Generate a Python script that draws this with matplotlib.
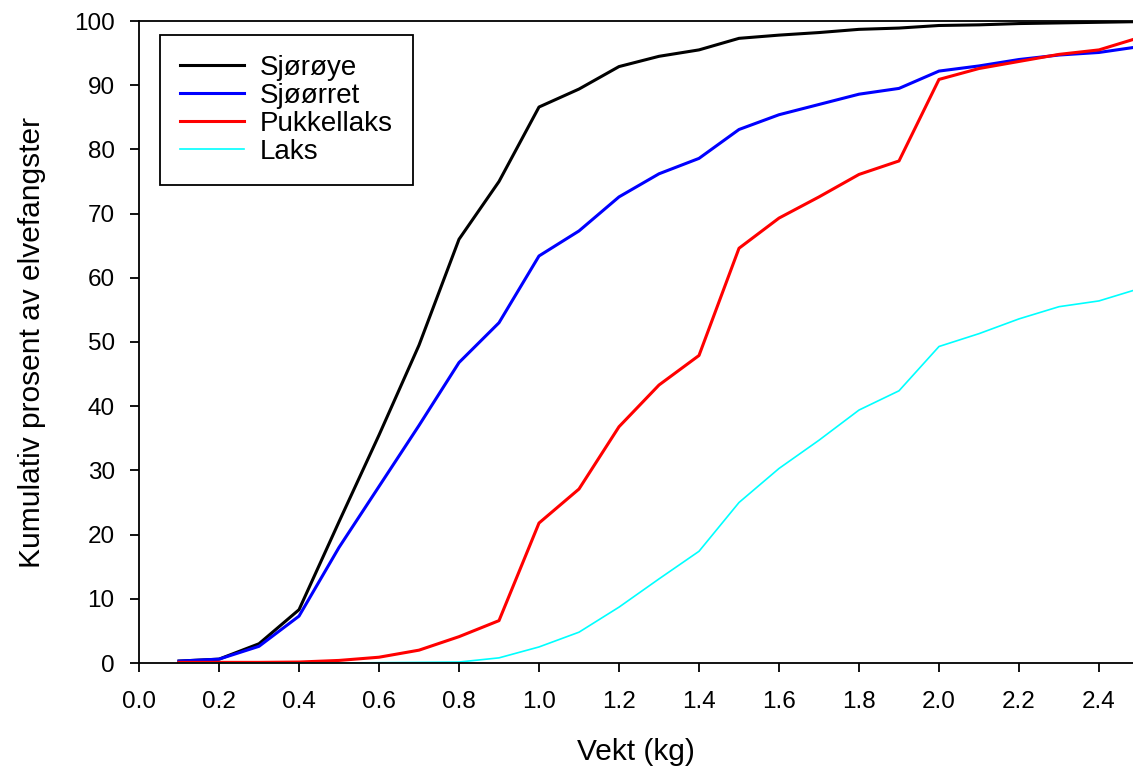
import matplotlib
matplotlib.use("Agg")
import matplotlib.pyplot as plt

plt.rcParams['font.family'] = ['Liberation Sans', 'DejaVu Sans']

vekt = [0.1, 0.2, 0.3, 0.4, 0.5, 0.6, 0.7, 0.8, 0.9, 1.0, 1.1, 1.2, 1.3,
        1.4, 1.5, 1.6, 1.7, 1.8, 1.9, 2.0, 2.1, 2.2, 2.3, 2.4, 2.5]

sjoroye = [0.3, 0.6, 3.0, 8.3, 22.0, 35.5, 49.5, 66.0, 75.0, 86.6, 89.4, 92.9, 94.5,
           95.5, 97.3, 97.8, 98.2, 98.7, 98.9, 99.3, 99.4, 99.6, 99.7, 99.8, 99.9]
sjoorret = [0.3, 0.6, 2.6, 7.3, 18.0, 27.5, 37.0, 46.8, 53.0, 63.4, 67.3, 72.6, 76.2,
            78.6, 83.1, 85.4, 87.0, 88.6, 89.5, 92.2, 93.0, 94.0, 94.7, 95.1, 96.0]
pukkellaks = [0.1, 0.1, 0.1, 0.15, 0.4, 0.9, 2.0, 4.1, 6.6, 21.8, 27.1, 36.8, 43.3,
              47.9, 64.6, 69.3, 72.6, 76.1, 78.2, 90.9, 92.6, 93.7, 94.8, 95.5, 97.4]
laks = [0.0, 0.0, 0.0, 0.0, 0.0, 0.05, 0.1, 0.15, 0.8, 2.5, 4.8, 8.7, 13.1,
        17.4, 25.0, 30.3, 34.7, 39.4, 42.4, 49.3, 51.3, 53.6, 55.5, 56.4, 58.3]

xticks = [0.0, 0.2, 0.4, 0.6, 0.8, 1.0, 1.2, 1.4, 1.6, 1.8, 2.0, 2.2, 2.4]
yticks = [0, 10, 20, 30, 40, 50, 60, 70, 80, 90, 100]

fig = plt.figure(figsize=(11.33, 7.69), dpi=100)
ax = fig.add_axes([139/1133, 106/769, 994/1133, 642/769])

ax.plot(vekt, sjoroye, color='black', lw=2.2, label='Sjørøye')
ax.plot(vekt, sjoorret, color='#0000ff', lw=2.2, label='Sjøørret')
ax.plot(vekt, pukkellaks, color='#ff0000', lw=2.2, label='Pukkellaks')
ax.plot(vekt, laks, color='#00ffff', lw=1.2, label='Laks')

ax.set_xlim(0, 994/400)
ax.set_ylim(0, 100)
ax.set_xticks(xticks)
ax.set_xticklabels([f"{t:.1f}" for t in xticks])
ax.set_yticks(yticks)
ax.tick_params(direction='out', length=6.5, width=1.3, labelsize=17.5)
ax.tick_params(axis='y', pad=11)
ax.tick_params(axis='x', pad=14)
for s in ['left', 'bottom', 'top']:
    ax.spines[s].set_linewidth(1.3)
ax.spines['right'].set_visible(False)

ax.set_xlabel('Vekt (kg)', fontsize=21.5, labelpad=18)
ax.set_ylabel('Kumulativ prosent av elvefangster', fontsize=21.5, labelpad=20)

leg = ax.legend(loc='upper left', bbox_to_anchor=(0.021, 0.978), borderaxespad=0,
                fontsize=20, fancybox=False, edgecolor='black', framealpha=1,
                handlelength=2.3, handletextpad=0.58, labelspacing=0.07,
                borderpad=0.72)
leg.get_frame().set_linewidth(1.3)

fig.savefig('out.png', dpi=100)
